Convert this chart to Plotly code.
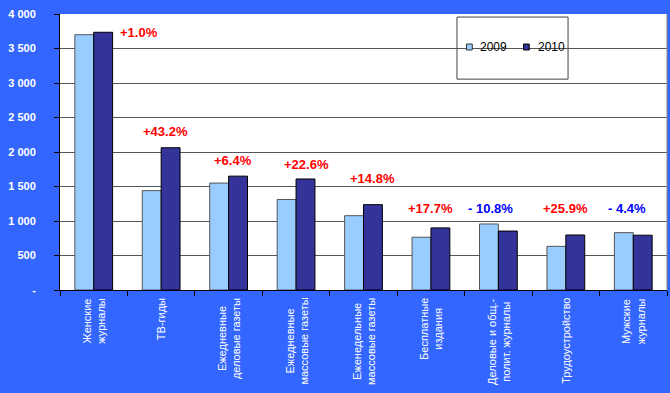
import plotly.graph_objects as go

categories = [
    "Женские<br>журналы",
    "ТВ-гиды",
    "Ежедневные<br>деловые газеты",
    "Ежедневные<br>массовые газеты",
    "Еженедельные<br>массовые газеты",
    "Бесплатные<br>издания",
    "Деловые и общ.-<br>полит. журналы",
    "Трудоустройство",
    "Мужские<br>журналы",
]
series_names = ["2009", "2010"]
values_2009 = [3700, 1440, 1550, 1312, 1077, 765, 957, 633, 831]
values_2010 = [3735, 2062, 1650, 1609, 1237, 900, 854, 797, 794]
change_labels = ["+1.0%", "+43.2%", "+6.4%", "+22.6%", "+14.8%", "+17.7%", "- 10.8%", "+25.9%", "- 4.4%"]
label_x = [0.67, 1.06, 2.07, 3.16, 4.14, 5.0, 5.89, 6.99, 7.9]
label_y = [3725, 2294, 1884, 1812, 1609, 1174, 1174, 1174, 1174]
label_colors = ["#FF0000", "#FF0000", "#FF0000", "#FF0000", "#FF0000", "#FF0000", "#0000FF", "#FF0000", "#0000FF"]
y_tickvals = [0, 500, 1000, 1500, 2000, 2500, 3000, 3500, 4000]
y_ticktext = ["-", "500", "1 000", "1 500", "2 000", "2 500", "3 000", "3 500", "4 000"]

FONT = "Liberation Sans, Arial"
C09, C10 = "#99CCFF", "#333399"

fig = go.Figure()
fig.add_trace(go.Bar(x=categories, y=values_2009, name=series_names[0], showlegend=False,
                     marker=dict(color=C09, line=dict(color="#555555", width=1))))
fig.add_trace(go.Bar(x=categories, y=values_2010, name=series_names[1], showlegend=False,
                     marker=dict(color=C10, line=dict(color="#000000", width=1))))

for x, y, t, c in zip(label_x, label_y, change_labels, label_colors):
    fig.add_annotation(x=x, y=y, xref="x", yref="y", text="<b>%s</b>" % t, showarrow=False,
                       font=dict(family=FONT, size=13, color=c))

# category labels, centred, rotated
for i, cat in enumerate(categories):
    fig.add_annotation(x=i, y=0, xref="x", yref="paper", yanchor="top", xanchor="center",
                       yshift=-6, text=cat, textangle=-90, align="center", showarrow=False,
                       font=dict(family=FONT, size=11, color="white"))

# legend box
fig.add_shape(type="rect", xref="paper", yref="paper", x0=0.654, x1=0.837, y0=0.764, y1=0.989,
              fillcolor="white", line=dict(color="#444444", width=1), layer="between")
legend_items = [(series_names[0], C09, "#333333", 0.6697, 0.6886),
                (series_names[1], C10, "#000000", 0.7636, 0.7842)]
for name, fc, lc, sx, tx in legend_items:
    fig.add_shape(type="rect", xref="paper", yref="paper", x0=sx, x1=sx + 0.0095,
                  y0=0.8696, y1=0.8913, fillcolor=fc, line=dict(color=lc, width=1), layer="above")
    fig.add_annotation(x=tx, y=0.8804, xref="paper", yref="paper", xanchor="left", yanchor="middle",
                       text=name, showarrow=False, font=dict(family=FONT, size=12, color="black"))

fig.update_layout(
    width=670, height=393,
    margin=dict(l=60, r=3, t=14, b=103),
    paper_bgcolor="#3366FF",
    plot_bgcolor="white",
    barmode="group",
    bargap=0.44,
    bargroupgap=0,
    font=dict(family=FONT, color="white"),
    showlegend=False,
    xaxis=dict(
        showticklabels=False,
        ticks="outside", tickson="boundaries", ticklen=5, tickcolor="black",
        showline=True, linecolor="black", linewidth=1,
        showgrid=False,
    ),
    yaxis=dict(
        range=[0, 4000], tickvals=y_tickvals, ticktext=["<b>%s</b>" % t for t in y_ticktext],
        tickfont=dict(size=11, color="white", family=FONT),
        ticks="outside", ticklen=5, tickcolor="black",
        showline=True, linecolor="black", linewidth=1,
        showgrid=True, gridcolor="#555555", gridwidth=1,
        zeroline=False, ticklabelstandoff=16,
    ),
)
fig.add_shape(type="line", xref="paper", yref="paper", x0=1, x1=1, y0=0, y1=1,
              line=dict(color="#888888", width=1))

fig.write_html("out.html", config={"displayModeBar": False},
               post_script="document.body.style.margin='0';")
